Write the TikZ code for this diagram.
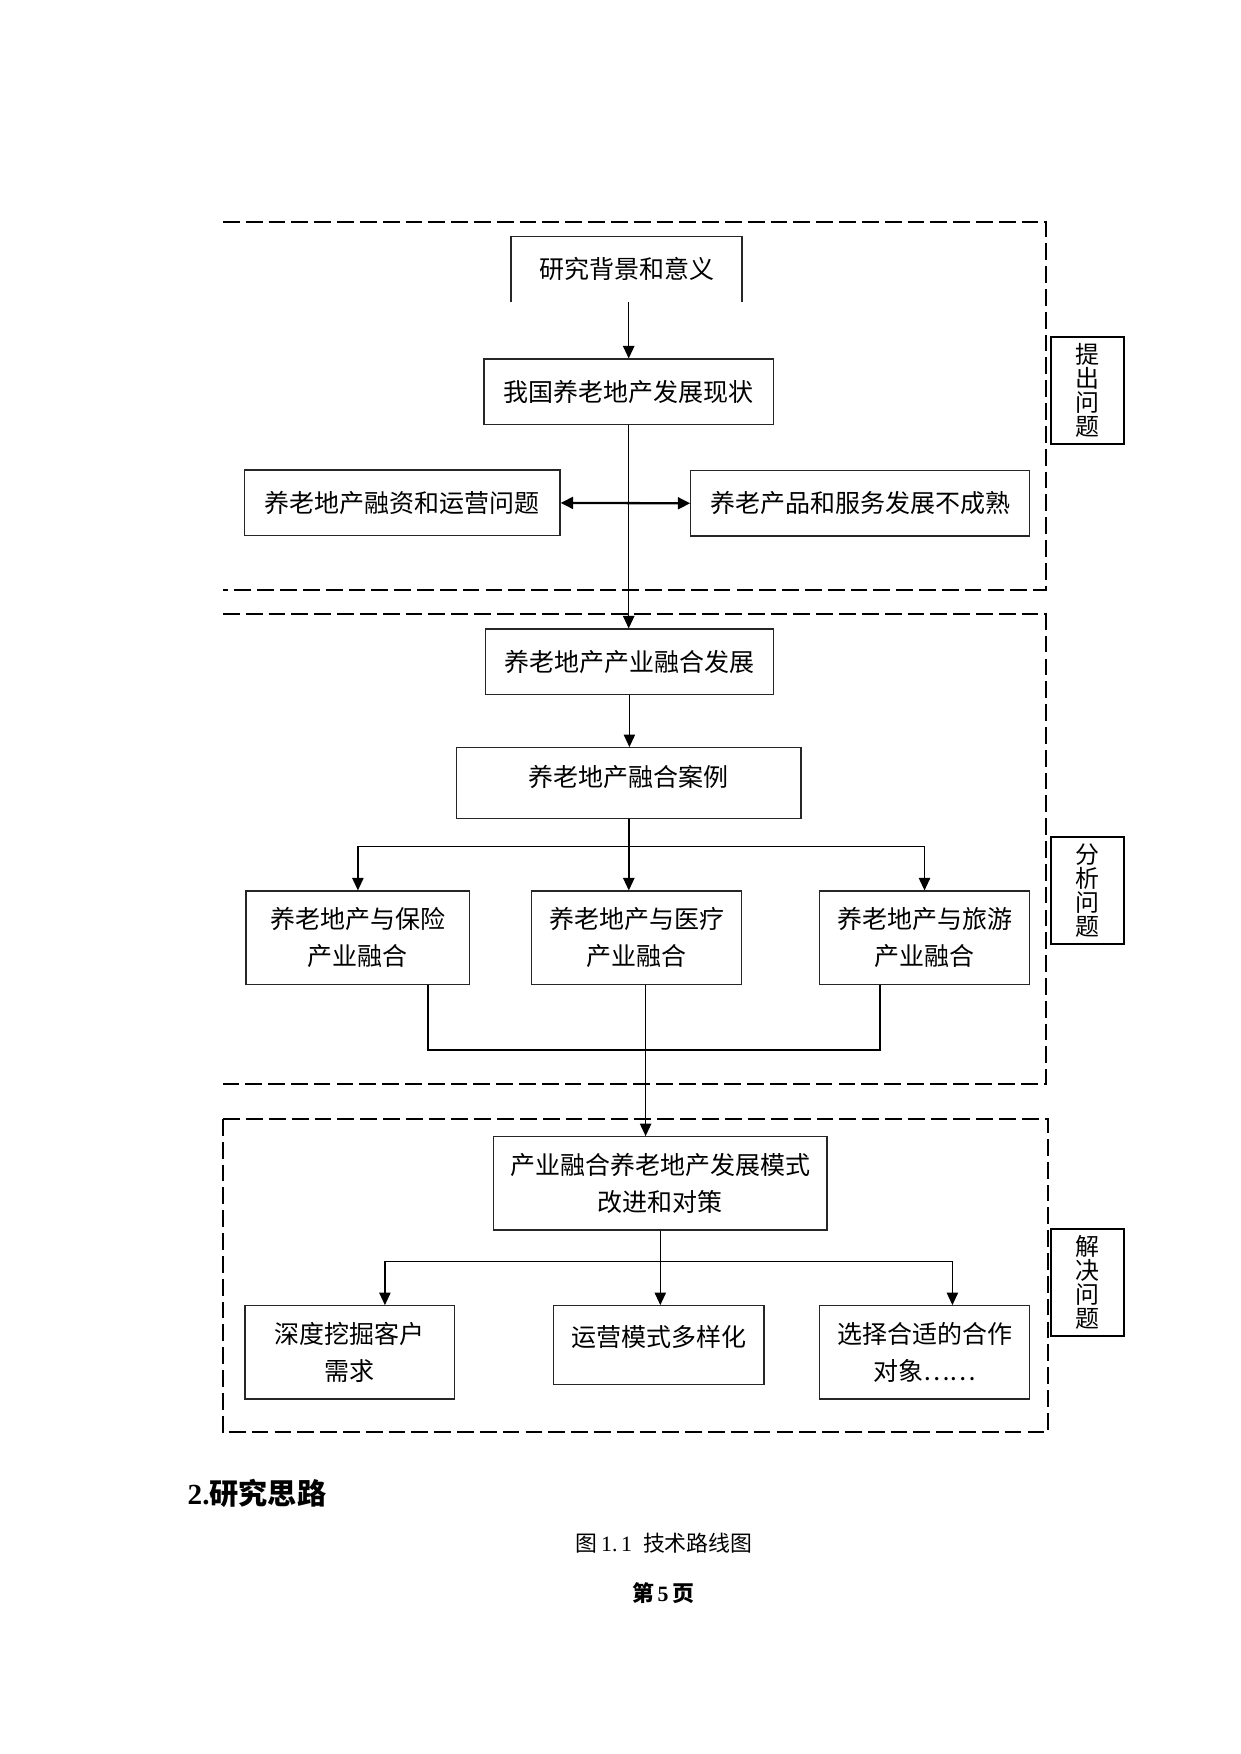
\documentclass[tikz,border=0pt]{standalone}
\usepackage{fontspec}
\setmainfont{Liberation Serif}
\newfontfamily\cjk{Noto Sans CJK SC}
\usetikzlibrary{arrows.meta,calc}
\def\pxu{0.48006pt}
\tikzset{
  box/.style={draw=black!85, line width=0.6pt, inner sep=0pt, align=center, font=\cjk\fontsize{12}{17.8}\selectfont},
  inlabel/.style={inner sep=0pt, font=\cjk\fontsize{12}{17.8}\selectfont},
  tag/.style={draw, line width=1.1pt, inner sep=0pt, align=center, font=\cjk\fontsize{11.5}{11.4}\selectfont, minimum width=73.3*\pxu, minimum height=107.5*\pxu},
  arr/.style={-{Triangle[length=2.1mm,width=1.9mm]}, line width=0.7pt},
  dbl/.style={{Triangle[length=2.1mm,width=2mm]}-{Triangle[length=2.1mm,width=2mm]}, line width=1.1pt},
  frame/.style={line width=1pt, dash pattern=on 2.83mm off 1.02mm}
}
\begin{document}
\begin{tikzpicture}[x=\pxu, y=-\pxu]
    \useasboundingbox (0,0) rectangle (1240,1754);
    \draw[frame] (223,221.7) -| (1045.6,590) -- (223,590);
    \draw[frame] (223,614) -| (1045.6,1084.3) -- (223,1084.3);
    \draw[frame] (222.7,1119) rectangle (1047.6,1432.3);

    \node[box, draw=none, minimum width=229.6*\pxu, minimum height=64.3*\pxu] (bj) at (626.5,269) {研究背景和意义};
    \draw[line width=0.6pt, black!85] (bj.south west) |- (bj.north east) -- (bj.south east);
    \node[box, minimum width=289.5*\pxu, minimum height=65.7*\pxu] (xz) at (628.7,391.9) {我国养老地产发展现状};
    \node[box, minimum width=315.2*\pxu, minimum height=65.7*\pxu] (rz) at (402.4,502.9) {养老地产融资和运营问题};
    \node[box, minimum width=338.7*\pxu, minimum height=65.3*\pxu] (cp) at (860.2,503.3) {养老产品和服务发展不成熟};
    \node[box, minimum width=288.2*\pxu, minimum height=65.3*\pxu] (fz) at (629.4,661.7) {养老地产产业融合发展};
    \node[box, minimum width=344.4*\pxu, minimum height=70.6*\pxu, label={[inlabel, yshift=6.3*\pxu]center:养老地产融合案例}] (al) at (628.8,783) {};
    \node[box, minimum width=223.9*\pxu, minimum height=93.3*\pxu] (bx) at (357.9,937.7) {养老地产与保险\\产业融合};
    \node[box, minimum width=209.5*\pxu, minimum height=93.3*\pxu] (yl) at (636.6,937.7) {养老地产与医疗\\产业融合};
    \node[box, minimum width=210.1*\pxu, minimum height=93.3*\pxu] (ly) at (924.5,937.7) {养老地产与旅游\\产业融合};
    \node[box, minimum width=333.4*\pxu, minimum height=93.3*\pxu] (ms) at (660.3,1183.4) {产业融合养老地产发展模式\\改进和对策};
    \node[box, minimum width=209.8*\pxu, minimum height=93.3*\pxu] (kh) at (349.9,1352.4) {深度挖掘客户\\需求};
    \node[box, minimum width=210.4*\pxu, minimum height=78.6*\pxu, label={[inlabel, yshift=8.3*\pxu]center:运营模式多样化}] (yy) at (658.8,1345) {};
    \node[box, minimum width=209.7*\pxu, minimum height=93.3*\pxu] (hz) at (924.6,1352.4) {选择合适的合作\\对象……};

    \node[tag] (tc) at (1087.4,390.4) {提\\出\\问\\题};
    \node[tag] (fx) at (1087.4,890.5) {分\\析\\问\\题};
    \node[tag] (jj) at (1087.4,1282.4) {解\\决\\问\\题};

    \draw[arr] (bj.south -| xz.north) -- (xz.north);
    \draw[arr] (xz.south) -- (xz.south |- fz.north);
    \draw[dbl] (rz.east) -- (cp.west);
    \draw[arr] (fz.south) -- (fz.south |- al.north);
    \coordinate (fk1) at ($(al.south)+(0,27.4)$);
    \draw[arr] (al.south) -- (al.south |- yl.north);
    \draw[arr] (fk1) -| (bx.north);
    \draw[arr] (fk1) -| (ly.north);
    \draw[line width=0.6pt] ($(bx.south)+(70,0)$) -- ++(0,65) -| ($(ly.south)+(-44.5,0)$);
    \coordinate (dn) at ($(yl.south)+(9,0)$);
    \draw[arr] (dn) -- (dn |- ms.north);
    \coordinate (fk2) at ($(ms.south)+(0,30.7)$);
    \draw[arr] (ms.south) -- (ms.south |- yy.north);
    \draw[arr] (fk2) -| ($(kh.north)+(35,0)$);
    \draw[arr] (fk2) -| ($(hz.north)+(27.8,0)$);

    \node[anchor=west, inner sep=0pt, font=\fontsize{14}{16}\selectfont\bfseries] (sl) at (187.3,1493) {2.{\cjk 研究思路}};
    \node[inner sep=0pt, font=\fontsize{10.5}{12}\selectfont] (tt) at (664,1543) {{\cjk 图}\,1.\,1\enspace{\cjk 技术路线图}};
    \node[inner sep=0pt, font=\fontsize{10.5}{12}\selectfont\bfseries] (ym) at (663,1593) {{\cjk 第}\,5\,{\cjk 页}};
\end{tikzpicture}
\end{document}
